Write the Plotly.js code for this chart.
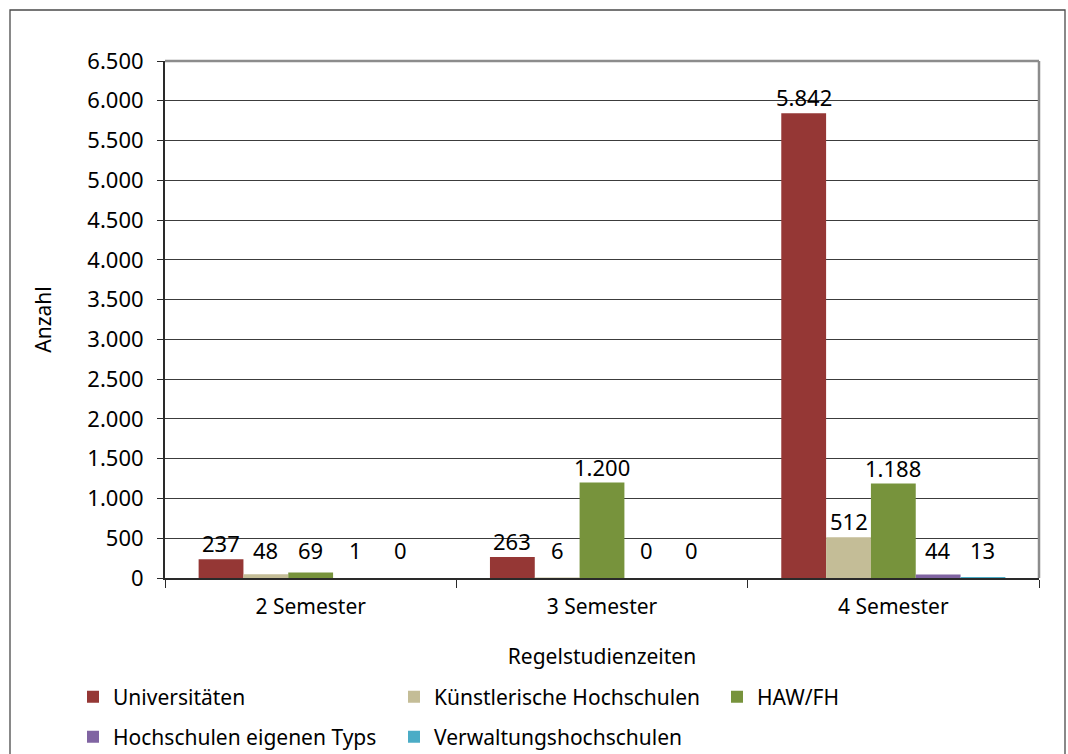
<!DOCTYPE html>
<html>
<head>
<meta charset="utf-8">
<script src="https://cdn.plot.ly/plotly-3.0.1.min.js"></script>
<style>html,body{margin:0;padding:0;background:#fff;}#chart{width:1068px;height:754px;}</style>
</head>
<body>
<div id="chart"></div>
<script>
// ---- data ----
const categories = ["2 Semester", "3 Semester", "4 Semester"];
const seriesNames = ["Universitäten", "Künstlerische Hochschulen", "HAW/FH", "Hochschulen eigenen Typs", "Verwaltungshochschulen"];
const universitaeten = [237, 263, 5842];
const kuenstlerische = [48, 6, 512];
const hawFh = [69, 1200, 1188];
const eigenenTyps = [1, 0, 44];
const verwaltung = [0, 0, 13];
const yMax = 6500;

const seriesValues = [universitaeten, kuenstlerische, hawFh, eigenenTyps, verwaltung];
const colors = ["#953735", "#C4BD97", "#77933C", "#8064A2", "#4BACC6"];

const FONT = "Noto Sans, Open Sans, DejaVu Sans, sans-serif";
const W = 1068, H = 754;
const M = {l: 165, r: 29, t: 61, b: 176};
const plotH = H - M.t - M.b;
const plotW = W - M.l - M.r;
const bargap = 1.5 / (5 + 1.5);
const barW = (1 - bargap) / 5;

// legend placement (container px): one legend per entry
const legendPos = [[73, 697], [394, 697], [717, 697], [73, 737], [394, 737]];
const legendIds = ["legend", "legend2", "legend3", "legend4", "legend5"];

const traces = seriesNames.map((name, i) => ({
  type: "bar",
  name: name,
  x: categories,
  y: seriesValues[i],
  marker: {color: colors[i], line: {width: 0}},
  legend: legendIds[i],
  hoverinfo: "x+y+name"
}));

// data labels via annotations tied to data coordinates
const annotations = [];
seriesValues.forEach((vals, i) => {
  vals.forEach((v, c) => {
    const vpx = v / yMax * plotH;
    const desired = Math.max(vpx + 5, 17);
    annotations.push({
      x: c + (i - 2) * barW,
      y: v,
      xref: "x", yref: "y",
      text: v.toLocaleString("de-DE"),
      showarrow: false,
      xanchor: "center", yanchor: "bottom",
      yshift: desired - vpx - 6,
      font: {family: FONT, size: 22, color: "#000"}
    });
  });
});

const fx0 = (10 - M.l) / plotW, fx1 = (1065 - M.l) / plotW;
const fy1 = (H - M.b - 10) / plotH, fy0 = (H - M.b - 770) / plotH;

const layout = {
  width: W, height: H,
  autosize: false,
  margin: M,
  paper_bgcolor: "#fff",
  plot_bgcolor: "#fff",
  separators: ",.",
  font: {family: FONT, size: 21, color: "#000"},
  barmode: "group",
  bargap: bargap,
  bargroupgap: 0,
  xaxis: {
    type: "category",
    tickson: "boundaries",
    ticks: "outside",
    ticklen: 8,
    tickcolor: "#2a2a2a",
    tickwidth: 1,
    ticklabelstandoff: 9,
    showline: true,
    linecolor: "#2a2a2a",
    linewidth: 2,
    showgrid: false,
    zeroline: false,
    tickfont: {family: FONT, size: 21, color: "#000"},
    title: {text: "Regelstudienzeiten", font: {family: FONT, size: 21, color: "#000"}, standoff: 30}
  },
  yaxis: {
    range: [0, yMax],
    tick0: 0, dtick: 500,
    tickformat: ",.0f",
    showgrid: true,
    gridcolor: "#3c3c3c",
    gridwidth: 1,
    showline: true,
    linecolor: "#2a2a2a",
    linewidth: 2,
    ticks: "outside",
    ticklen: 6,
    tickcolor: "#2a2a2a",
    ticklabelstandoff: 9,
    zeroline: false,
    tickfont: {family: FONT, size: 22, color: "#000"},
    title: {text: "Anzahl", font: {family: FONT, size: 21, color: "#000"}, standoff: 30}
  },
  shapes: [
    {type: "line", xref: "paper", yref: "paper", x0: 0, x1: 1, y0: 1, y1: 1, line: {color: "#8c8c8c", width: 2.5}},
    {type: "line", xref: "paper", yref: "paper", x0: 1, x1: 1, y0: 0, y1: 1, line: {color: "#8c8c8c", width: 2.5}},
    {type: "rect", xref: "paper", yref: "paper", x0: fx0, x1: fx1, y0: fy0, y1: fy1, line: {color: "#4a4a4a", width: 1.3}, fillcolor: "rgba(0,0,0,0)"}
  ],
  annotations: annotations,
  showlegend: true
};

legendIds.forEach((id, i) => {
  layout[id] = {
    orientation: "h",
    xref: "container", yref: "container",
    x: legendPos[i][0] / W, y: 1 - legendPos[i][1] / H,
    xanchor: "left", yanchor: "middle",
    font: {family: FONT, size: 21, color: "#000"},
    bgcolor: "rgba(0,0,0,0)"
  };
});

Plotly.newPlot("chart", traces, layout, {displayModeBar: false, staticPlot: true});
</script>
</body>
</html>
